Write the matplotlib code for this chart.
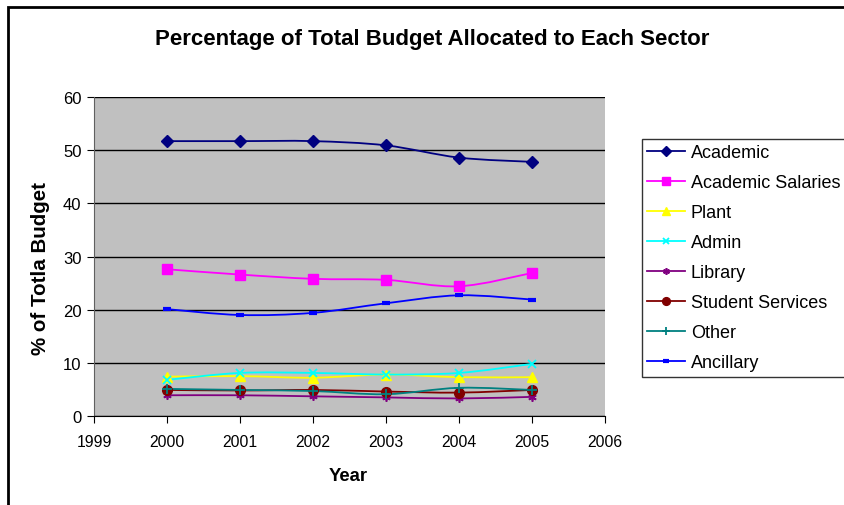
import numpy as np
import matplotlib
matplotlib.use('Agg')
import matplotlib.pyplot as plt
from matplotlib.path import Path
from matplotlib.patches import PathPatch, Rectangle
from matplotlib.lines import Line2D

plt.rcParams['font.family'] = ['Liberation Sans', 'DejaVu Sans']

# data
years = [2000, 2001, 2002, 2003, 2004, 2005]
academic = [51.7, 51.7, 51.7, 50.9, 48.6, 47.8]
academic_salaries = [27.6, 26.6, 25.8, 25.6, 24.4, 26.9]
plant = [7.4, 7.5, 7.2, 7.8, 7.3, 7.3]
admin = [6.8, 8.1, 8.1, 7.8, 8.1, 9.8]
library = [3.9, 3.9, 3.7, 3.5, 3.3, 3.6]
student_services = [4.9, 4.8, 4.9, 4.6, 4.4, 4.9]
other = [5.1, 4.9, 4.7, 4.1, 5.3, 4.9]
ancillary = [20.1, 19.0, 19.4, 21.2, 22.7, 21.9]

series_names = ['Academic', 'Academic Salaries', 'Plant', 'Admin', 'Library',
                'Student Services', 'Other', 'Ancillary']
series_vals = [academic, academic_salaries, plant, admin, library,
               student_services, other, ancillary]
colors = ['#000080', '#FF00FF', '#FFFF00', '#00FFFF', '#800080',
          '#800000', '#008080', '#0000FF']
markers = ['D', 's', '^', 'x', (6, 2, 0), 'o', '+', '_']
msizes = [6, 7, 7, 6, 6, 7, 7, 6]
mews = [1, 1, 1, 1.3, 1.2, 1, 1.3, 3]


def smooth_path(xs, ys):
    # catmull-rom style bezier through the points, like excel's smoothed line
    pts = np.column_stack([xs, ys]).astype(float)
    verts = [pts[0]]
    codes = [Path.MOVETO]
    n = len(pts)
    for i in range(n - 1):
        p0 = pts[i - 1] if i > 0 else pts[i]
        p1 = pts[i]
        p2 = pts[i + 1]
        p3 = pts[i + 2] if i + 2 < n else pts[i + 1]
        c1 = p1 + (p2 - p0) / 6.0
        c2 = p2 - (p3 - p1) / 6.0
        verts += [c1, c2, p2]
        codes += [Path.CURVE4] * 3
    return Path(verts, codes)


fig = plt.figure(figsize=(8.45, 5.06), dpi=100)
W, H = 845, 506
ax = fig.add_axes([94 / W, 1 - 417 / H, (605 - 94) / W, (417 - 98) / H])
ax.set_facecolor('#C0C0C0')

for name, vals, c, m, ms, mew in zip(series_names, series_vals, colors, markers, msizes, mews):
    ax.add_patch(PathPatch(smooth_path(years, vals), facecolor='none',
                           edgecolor=c, lw=1.3, zorder=3))
    ax.plot(years, vals, linestyle='none', marker=m, markersize=ms,
            color=c, markeredgecolor=c, markeredgewidth=mew, zorder=4)

ax.set_xlim(1999, 2006)
ax.set_ylim(0, 60)
ax.set_xticks(range(1999, 2007))
ax.set_yticks(range(0, 61, 10))
ax.tick_params(direction='out', length=5, color='black')
ax.tick_params(axis='x', labelsize=11.3, pad=8)
ax.tick_params(axis='y', labelsize=12, pad=4)
ax.yaxis.grid(True, color='black', lw=1)
ax.set_axisbelow(True)
for s in ax.spines.values():
    s.set_visible(False)
ax.spines['left'].set_visible(True)
ax.spines['bottom'].set_visible(True)
ax.spines['left'].set_color('#606060')

ax.set_xlabel('Year', fontsize=13.3, fontweight='bold')
ax.xaxis.set_label_coords(0.497, -0.188)
ax.xaxis.label.set_va('center')
ax.set_ylabel('% of Totla Budget', fontsize=14.8, fontweight='bold')
ax.yaxis.set_label_coords(-0.104, 0.467)
ax.yaxis.label.set_va('center')

fig.text(432 / W, 1 - 39 / H, 'Percentage of Total Budget Allocated to Each Sector',
         ha='center', va='center', fontsize=16, fontweight='bold')

handles = [Line2D([], [], color=c, marker=m, markersize=ms * 0.8, markeredgewidth=mew, lw=1.3)
           for c, m, ms, mew in zip(colors, markers, msizes, mews)]
leg = fig.legend(handles, series_names, loc='upper left',
                 bbox_to_anchor=(642 / W, 1 - 140 / H), bbox_transform=fig.transFigure,
                 fontsize=13, frameon=True, fancybox=False, edgecolor='black',
                 handlelength=2.1, handletextpad=0.3, labelspacing=0.72,
                 borderpad=0.3, borderaxespad=0)
leg.get_frame().set_linewidth(1)

# chart border (only left/top visible in the crop)
fig.patches.append(Rectangle((8 / W, -0.1), 1.2, 1 - 8 / H + 0.1, transform=fig.transFigure,
                             facecolor='none', edgecolor='black', lw=2))

fig.savefig('out.png', dpi=100)
